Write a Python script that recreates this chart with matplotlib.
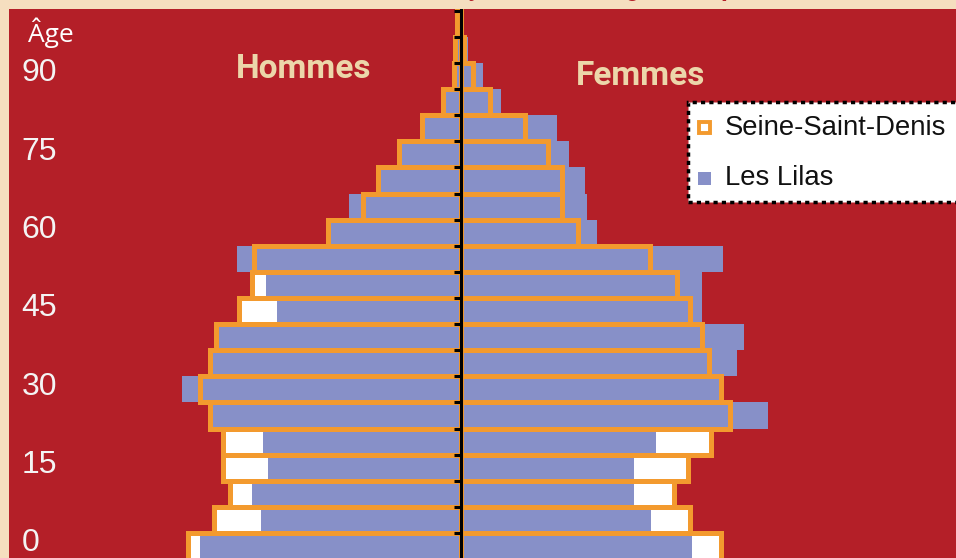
import numpy as np
import matplotlib
matplotlib.use("Agg")
from matplotlib import pyplot as plt
from matplotlib.patches import Rectangle

# tranches d'age de 5 ans : 0-4, 5-9, ... 100+
ages = np.arange(0, 105, 5)

# part de la population (%) - Seine-Saint-Denis
ssd_hommes = [3.91, 3.54, 3.31, 3.40, 3.40, 3.59, 3.73, 3.59, 3.51, 3.17, 2.99,
              2.96, 1.90, 1.41, 1.19, 0.89, 0.56, 0.26, 0.11, 0.09, 0.07]
ssd_femmes = [3.70, 3.26, 3.04, 3.23, 3.56, 3.83, 3.71, 3.53, 3.44, 3.26, 3.07,
              2.69, 1.66, 1.43, 1.43, 1.24, 0.90, 0.41, 0.16, 0.03, 0.0]

# part de la population (%) - Les Lilas
lilas_hommes = [3.73, 2.86, 2.99, 2.76, 2.83, 3.55, 3.99, 3.55, 3.47, 2.64, 2.79,
                3.21, 1.86, 1.60, 1.15, 0.85, 0.52, 0.22, 0.08, 0.05, 0.03]
lilas_femmes = [3.29, 2.70, 2.46, 2.46, 2.77, 4.37, 3.67, 3.93, 4.03, 3.44, 3.44,
                3.73, 1.94, 1.79, 1.76, 1.53, 1.36, 0.57, 0.30, 0.10, 0.0]

age_labels = [0, 15, 30, 45, 60, 75, 90]

red = '#B41F28'
beige = '#F5DEBF'
orange = '#F39A2E'
blue = '#8790C8'

fig = plt.figure(figsize=(9.56, 5.58), dpi=100, facecolor=beige)
ax = fig.add_axes([9/956, 0, 947/956, 549/558])
ax.set_facecolor(red)

idx = np.arange(len(ages))
m_ssd = -np.array(ssd_hommes)
m_lil = -np.array(lilas_hommes)

# fond blanc des barres Seine-Saint-Denis
ax.barh(idx, m_ssd, height=1, color='white', zorder=1)
ax.barh(idx, ssd_femmes, height=1, color='white', zorder=1)
# Les Lilas
ax.barh(idx, m_lil, height=1, color=blue, zorder=2)
ax.barh(idx, lilas_femmes, height=1, color=blue, zorder=2)
# contour Seine-Saint-Denis
ax.barh(idx, m_ssd, height=1, fill=False, edgecolor=orange, linewidth=3.6, zorder=3)
ax.barh(idx, ssd_femmes, height=1, fill=False, edgecolor=orange, linewidth=3.6, zorder=3)

# axe central et graduations
ax.axvline(0, color='black', linewidth=2.2, zorder=5)
ax.hlines(idx + 0.5, -0.11, 0, color='black', linewidth=2.2, zorder=5)

ax.set_xlim(-6.46, 7.06)
ax.set_ylim(-0.46, 20.57)
ax.set_xticks([])
ax.set_yticks([])
for s in ax.spines.values():
    s.set_visible(False)

# etiquettes d'age
for a in age_labels:
    ax.text(-6.28, a / 5 + 0.1, str(a), color='#F4F4F4', fontsize=23,
            family='Liberation Sans', ha='left', va='center', zorder=6)
ax.text(-6.19, 19.65, 'Âge', color='white', fontsize=19, family='Open Sans',
        ha='left', va='center', zorder=6)

cond = ['Liberation Sans Narrow', 'Roboto', 'DejaVu Sans']
ax.text(-2.25, 18.28, 'Hommes', color='#ECD6AA', fontsize=24, fontweight='bold',
        family=cond, ha='center', va='center', zorder=6)
ax.text(2.55, 18.0, 'Femmes', color='#ECD6AA', fontsize=24, fontweight='bold',
        family=cond, ha='center', va='center', zorder=6)

# legende
W, H = 956, 558
fig.add_artist(Rectangle((688/W, 1 - 202/H), 300/W, 100/H, transform=fig.transFigure,
                         facecolor='white', edgecolor='black', linewidth=2.5,
                         linestyle=(0, (1.2, 1.2)), zorder=10))
fig.add_artist(Rectangle((699/W, 1 - 133/H), 11/W, 11/H, transform=fig.transFigure,
                         facecolor='white', edgecolor=orange, linewidth=2.8, zorder=11))
fig.add_artist(Rectangle((698/W, 1 - 185/H), 13/W, 13/H, transform=fig.transFigure,
                         facecolor=blue, edgecolor='none', zorder=11))
fig.text(725/W, 1 - 128/H, 'Seine-Saint-Denis', fontsize=19.8, family='Liberation Sans',
         color='#111111', ha='left', va='center', zorder=12)
fig.text(725/W, 1 - 178/H, 'Les Lilas', fontsize=19.8, family='Liberation Sans',
         color='#111111', ha='left', va='center', zorder=12)

# titre (coupe en haut de l'image, comme dans l'original)
fig.text(452/W, 1 + 4/H, 'Pyramide des âges comparée', fontsize=18, fontweight='bold',
         family=cond, color=red, ha='left', va='baseline')

fig.savefig('out.png', dpi=100, facecolor=beige)
